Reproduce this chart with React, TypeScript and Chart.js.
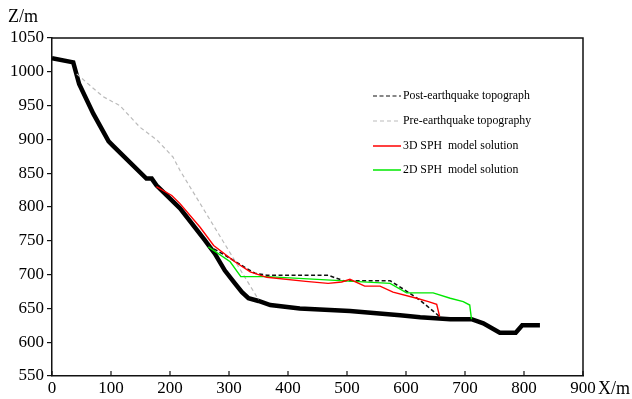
import React, { useEffect, useRef } from "react";
import { Chart, registerables } from "chart.js";
Chart.register(...registerables);

const xTicks = [0, 100, 200, 300, 400, 500, 600, 700, 800, 900];

const groundX = [0, 36, 46, 70, 96, 104, 160, 169, 177, 217, 259, 276, 293, 310, 322, 333, 350, 370, 420, 505, 590, 624, 675, 711, 731, 759, 786, 797, 827];
const groundZ = [1020, 1014, 982, 938, 897, 890, 842, 842, 832, 798, 751, 731, 706, 687, 674, 665, 661, 655, 650, 646, 640, 637, 634, 634, 628, 614, 614, 625, 625];

const postX = [265, 300, 330, 344, 364, 468, 494, 573, 600, 624, 657];
const postZ = [743, 725, 709, 702, 699, 699, 691, 691, 676, 662, 638];

const preX = [42, 64, 87, 115, 149, 178, 205, 217, 350];
const preZ = [997, 980, 963, 950, 918, 899, 874, 854, 663];

const sph3dX = [177, 203, 217, 251, 274, 310, 336, 364, 430, 468, 491, 505, 530, 556, 578, 618, 638, 652, 657];
const sph3dZ = [830, 817, 805, 770, 743, 719, 704, 696, 690, 687, 689, 693, 683, 683, 674, 665, 660, 656, 638];

const sph2dX = [265, 302, 320, 364, 573, 601, 646, 675, 697, 708, 711];
const sph2dZ = [741, 719, 697, 697, 687, 673, 673, 665, 660, 655, 634];

const labels = [
  "Post-earthquake topograph",
  "Pre-earthquake topography",
  "3D SPH  model solution",
  "2D SPH  model solution",
];

const pts = (xs: number[], ys: number[]) => xs.map((x, i) => ({ x, y: ys[i] }));

const FONT = '"Liberation Serif", "Times New Roman", serif';

export default function App() {
  const ref = useRef<HTMLCanvasElement>(null);
  useEffect(() => {
    document.body.style.margin = "0";
    const frame = {
      id: "frame",
      afterDraw(chart: any) {
        const { ctx, chartArea } = chart;
        const { left, right, top, bottom } = chartArea;
        const xs = chart.scales.x;
        ctx.save();
        ctx.strokeStyle = "#111";
        ctx.lineWidth = 1.5;
        ctx.beginPath();
        ctx.moveTo(left, top);
        ctx.lineTo(right, top);
        ctx.lineTo(right, bottom);
        ctx.stroke();
        ctx.lineWidth = 1.2;
        for (const v of xTicks) {
          const px = xs.getPixelForValue(v);
          ctx.beginPath();
          ctx.moveTo(px, bottom);
          ctx.lineTo(px, bottom - 5);
          ctx.stroke();
        }
        ctx.fillStyle = "#000";
        ctx.font = `18px ${FONT}`;
        ctx.textBaseline = "middle";
        ctx.textAlign = "left";
        ctx.fillText("Z/m", 8, 17);
        ctx.fillText("X/m", 598, 389);
        // legend
        const ds = chart.data.datasets.filter((d: any) => d.label);
        const rows = [96, 121, 146, 170];
        ctx.font = `11.8px ${FONT}`;
        ds.forEach((d: any, i: number) => {
          const y = rows[i];
          ctx.beginPath();
          ctx.strokeStyle = d.borderColor;
          ctx.lineWidth = i < 2 ? 1.2 : 1.5;
          ctx.setLineDash(d.borderDash || []);
          ctx.moveTo(373, y);
          ctx.lineTo(401, y);
          ctx.stroke();
          ctx.setLineDash([]);
          ctx.fillStyle = "#000";
          ctx.fillText(d.label, 403, y);
        });
        ctx.restore();
      },
    };
    const tickFont = { family: FONT, size: 17 };
    const chart = new Chart(ref.current as HTMLCanvasElement, {
      type: "scatter",
      data: {
        datasets: [
          { label: "", data: pts(groundX, groundZ), showLine: true, borderColor: "#000", borderWidth: 4.5, order: 10 },
          { label: labels[0], data: pts(postX, postZ), showLine: true, borderColor: "#111", borderWidth: 1.6, borderDash: [4, 2.5], order: 3 },
          { label: labels[1], data: pts(preX, preZ), showLine: true, borderColor: "#bbbbbb", borderWidth: 1.2, borderDash: [4, 3], order: 4 },
          { label: labels[2], data: pts(sph3dX, sph3dZ), showLine: true, borderColor: "#ff0000", borderWidth: 1.4, order: 1 },
          { label: labels[3], data: pts(sph2dX, sph2dZ), showLine: true, borderColor: "#00e800", borderWidth: 1.4, order: 2 },
        ],
      },
      options: {
        animation: false,
        responsive: true,
        maintainAspectRatio: false,
        layout: { padding: { top: 38, right: 49, left: 0, bottom: 0 } },
        elements: { point: { radius: 0 }, line: { tension: 0 } },
        plugins: { legend: { display: false }, tooltip: { enabled: false } },
        scales: {
          x: {
            type: "linear",
            min: 0,
            max: 900,
            afterBuildTicks: (s: any) => { s.ticks = xTicks.map((v) => ({ value: v })); },
            ticks: { color: "#000", font: tickFont, padding: 2, maxRotation: 0, autoSkip: false, callback: (v: any) => String(v) },
            grid: { drawOnChartArea: false, drawTicks: false },
            border: { color: "#111", width: 1.5 },
            afterFit: (s: any) => { s.height = 23; },
          },
          y: {
            min: 550,
            max: 1050,
            ticks: { stepSize: 50, color: "#000", font: tickFont, padding: 3, callback: (v: any) => String(v) },
            grid: { drawOnChartArea: false, tickLength: 5, color: "#111", lineWidth: 1.2 },
            border: { color: "#111", width: 1.5 },
            afterFit: (s: any) => { s.width = 52; },
          },
        },
      },
      plugins: [frame],
    } as any);
    return () => chart.destroy();
  }, []);
  return (
    <div style={{ width: 632, height: 399, position: "relative" }}>
      <canvas ref={ref} />
    </div>
  );
}
